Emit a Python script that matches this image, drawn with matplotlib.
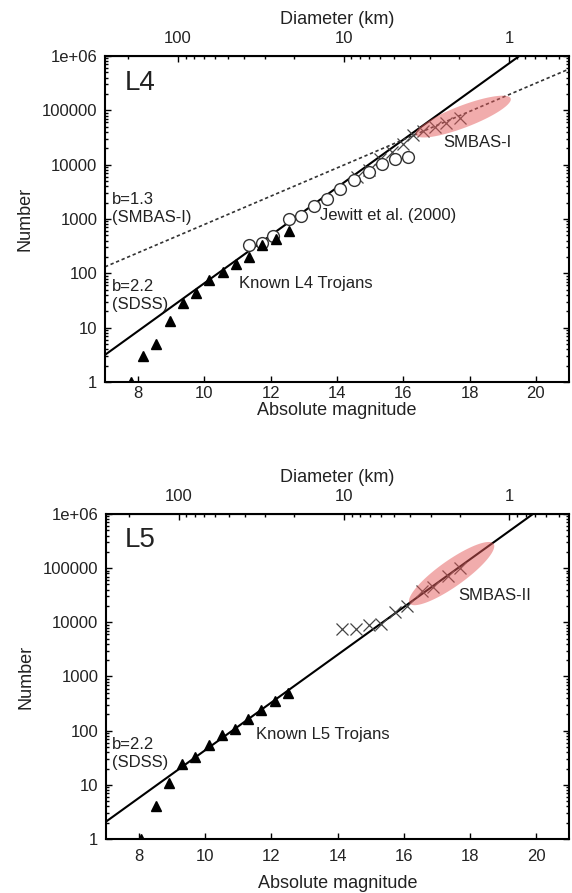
import matplotlib
matplotlib.use("Agg")
import matplotlib.pyplot as plt
import matplotlib.ticker as mticker
import numpy as np

plt.rcParams['font.family'] = ['Liberation Sans', 'DejaVu Sans']

# --- data ---
# L4 panel
l4_tri_H = [7.78, 8.15, 8.55, 8.95, 9.35, 9.75, 10.15, 10.55, 10.95, 11.35, 11.75, 12.15, 12.55]
l4_tri_N = [1, 3, 5, 13, 29, 44, 76, 108, 147, 203, 330, 425, 590]
l4_circ_H = [11.35, 11.75, 12.08, 12.55, 12.9, 13.3, 13.7, 14.1, 14.5, 14.95, 15.35, 15.75, 16.15]
l4_circ_N = [330, 355, 480, 1000, 1150, 1740, 2300, 3550, 5250, 7400, 10500, 12600, 14100]
l4_cross_H = [14.6, 14.95, 15.3, 15.65, 16.0, 16.3, 16.6, 16.95, 17.3, 17.7]
l4_cross_N = [6000, 8000, 12600, 17400, 24000, 35500, 41700, 50100, 58900, 72400]
# L5 panel
l5_tri_H = [8.07, 8.5, 8.9, 9.3, 9.7, 10.1, 10.5, 10.9, 11.3, 11.7, 12.1, 12.5]
l5_tri_N = [1, 4, 11, 24, 32, 54, 83, 106, 162, 240, 357, 490]
l5_cross_H = [14.15, 14.55, 14.95, 15.3, 15.75, 16.1, 16.55, 16.9, 17.35, 17.7]
l5_cross_N = [7400, 7400, 8900, 9300, 15800, 20000, 38000, 45700, 72400, 100000]

# power-law fits: log10 N = slope * H + intercept
l4_sdss = (0.44, -2.58)
l4_smbas = (0.26, 0.30)
l5_sdss = (0.44, -2.76)

# SMBAS highlight ellipses: end points (H, log10 N) and half width in pixels
l4_ell = ((16.37, 4.55), (19.24, 5.22), 11)
l5_ell = ((16.18, 4.35), (18.72, 5.45), 13)

ytick_vals = [1, 10, 100, 1000, 10000, 100000, 1000000]
ytick_labels = ['1', '10', '100', '1000', '10000', '100000', '1e+06']
xtick_vals = [8, 10, 12, 14, 16, 18, 20]
dtick_vals = [1, 10, 100]
dtick_labels = ['1', '10', '100']

H_D1 = 19.2  # magnitude of a 1 km body on the top axis

tc = '#222222'


def H2D(h):
    return 10 ** ((H_D1 - np.asarray(h, dtype=float)) / 5.0)


def D2H(d):
    d = np.clip(np.asarray(d, dtype=float), 1e-6, None)
    return H_D1 - 5.0 * np.log10(d)


def ellipse(ax, ell):
    (h1, l1), (h2, l2), hw = ell
    p1 = ax.transData.transform((h1, 10 ** l1))
    p2 = ax.transData.transform((h2, 10 ** l2))
    c = (p1 + p2) / 2
    u = (p2 - p1) / 2
    n = np.array([-u[1], u[0]]) / np.hypot(*u) * hw
    t = np.linspace(0, 2 * np.pi, 100)
    pts = c + np.outer(np.cos(t), u) + np.outer(np.sin(t), n)
    d = ax.transData.inverted().transform(pts)
    ax.fill(d[:, 0], d[:, 1], color='#e45a5a', alpha=0.5, lw=0, zorder=4)


def setup(ax, xpad, xlabelpad):
    ax.set_xlim(7, 21)
    ax.set_yscale('log')
    ax.set_ylim(1, 1e6)
    ax.set_xticks(xtick_vals)
    ax.set_xticklabels([str(v) for v in xtick_vals])
    ax.yaxis.set_major_locator(mticker.FixedLocator(ytick_vals))
    ax.yaxis.set_major_formatter(mticker.FixedFormatter(ytick_labels))
    ax.yaxis.set_minor_locator(mticker.LogLocator(base=10, subs=np.arange(2, 10)))
    ax.yaxis.set_minor_formatter(mticker.NullFormatter())
    ax.tick_params(axis='both', which='both', direction='in', colors='black',
                   labelcolor=tc, labelsize=12, width=1)
    ax.tick_params(axis='x', top=False, pad=xpad, length=4)
    ax.tick_params(axis='y', right=True, pad=5.5, length=4)
    ax.tick_params(axis='y', which='minor', right=True, length=2)
    for s in ax.spines.values():
        s.set_linewidth(1.5)
    ax.set_xlabel('Absolute magnitude', fontsize=13, color=tc, labelpad=xlabelpad)
    ax.set_ylabel('Number', fontsize=13, color=tc, labelpad=6)

    sec = ax.secondary_xaxis('top', functions=(H2D, D2H))
    sec.xaxis.set_major_locator(mticker.FixedLocator(dtick_vals))
    sec.xaxis.set_major_formatter(mticker.FixedFormatter(dtick_labels))
    minors = [m * 10.0 ** k for k in range(-1, 3) for m in range(2, 10)]
    sec.xaxis.set_minor_locator(mticker.FixedLocator(minors))
    sec.xaxis.set_minor_formatter(mticker.NullFormatter())
    sec.tick_params(axis='x', which='both', direction='in', labelsize=12,
                    labelcolor=tc, width=1, pad=7)
    sec.tick_params(axis='x', which='major', length=4)
    sec.tick_params(axis='x', which='minor', length=2)
    sec.set_xlabel('Diameter (km)', fontsize=13, color=tc, labelpad=5)
    return sec


def fitline(ax, fit, **kw):
    h = np.array([7.0, 21.0])
    ax.plot(h, 10 ** (fit[0] * h + fit[1]), **kw)


fig = plt.figure(figsize=(5.72, 8.93), dpi=100)
ax1 = fig.add_axes([0.1836, 0.5722, 0.8112, 0.3651])
ax2 = fig.add_axes([0.1853, 0.0605, 0.8095, 0.3639])

# ---- L4 ----
setup(ax1, 3, 0.5)
fitline(ax1, l4_sdss, color='black', lw=1.5, zorder=2)
fitline(ax1, l4_smbas, color='#333333', lw=1.2, ls=(0, (2, 1.6)), zorder=2)
ax1.plot(l4_cross_H, l4_cross_N, 'x', color='#444444', ms=8, mew=0.9, zorder=3)
ax1.plot(l4_circ_H, l4_circ_N, 'o', mfc='white', mec='#333333', ms=8.5, mew=1.0, zorder=3)
ax1.plot(l4_tri_H, l4_tri_N, '^', color='black', ms=6.5, zorder=3.5)
ellipse(ax1, l4_ell)
ax1.text(7.6, 10 ** 5.5, 'L4', fontsize=20, color=tc, va='center', ha='left')
ax1.text(7.2, 10 ** 3.19, 'b=1.3\n(SMBAS-I)', fontsize=12, color=tc, va='center', ha='left')
ax1.text(7.2, 10 ** 1.59, 'b=2.2\n(SDSS)', fontsize=12, color=tc, va='center', ha='left')
ax1.text(11.03, 10 ** 1.82, 'Known L4 Trojans', fontsize=12, color=tc, va='center', ha='left')
ax1.text(13.5, 10 ** 3.07, 'Jewitt et al. (2000)', fontsize=12, color=tc, va='center', ha='left')
ax1.text(17.22, 10 ** 4.40, 'SMBAS-I', fontsize=12, color=tc, va='center', ha='left')

# ---- L5 ----
setup(ax2, 7, 8)
fitline(ax2, l5_sdss, color='black', lw=1.5, zorder=2)
ax2.plot(l5_cross_H, l5_cross_N, 'x', color='#444444', ms=8, mew=0.9, zorder=3)
ax2.plot(l5_tri_H, l5_tri_N, '^', color='black', ms=6.5, zorder=3.5)
ellipse(ax2, l5_ell)
ax2.text(7.57, 10 ** 5.52, 'L5', fontsize=20, color=tc, va='center', ha='left')
ax2.text(7.18, 10 ** 1.58, 'b=2.2\n(SDSS)', fontsize=12, color=tc, va='center', ha='left')
ax2.text(11.55, 10 ** 1.92, 'Known L5 Trojans', fontsize=12, color=tc, va='center', ha='left')
ax2.text(17.64, 10 ** 4.5, 'SMBAS-II', fontsize=12, color=tc, va='center', ha='left')

fig.savefig('out.png', dpi=100)
